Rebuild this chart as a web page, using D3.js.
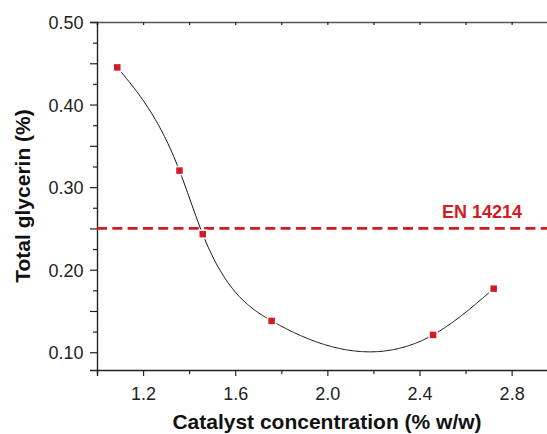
<!DOCTYPE html>
<meta charset="utf-8">
<style>
body { margin: 0; background: #fff; }
text { font-family: "Liberation Sans", Arial, sans-serif; }
</style>
<svg width="547" height="434"></svg>
<script src="https://d3js.org/d3.v7.min.js"></script>
<script>
// catalyst concentration (% w/w) vs total glycerin (%)
var catalyst = [1.088, 1.358, 1.459, 1.758, 2.459, 2.722];
var glycerin = [0.445, 0.320, 0.243, 0.138, 0.121, 0.177];
var limitValue = 0.25, limitLabel = "EN 14214";
var xTicks = [1.2, 1.6, 2.0, 2.4, 2.8];
var yTicks = [0.10, 0.20, 0.30, 0.40, 0.50];

var svg = d3.select("svg");
var red = "#d01c22";
var plotLeft = 97, plotRight = 557.7, plotTop = 22, plotBottom = 370;

var x = d3.scaleLinear().domain([1.0, 3.0]).range([plotLeft, plotRight]);
var y = d3.scaleLinear().domain([0.0785, 0.5]).range([plotBottom, plotTop]);

var axisColor = "#222";
function isMajor(list, d) {
  return list.some(function(t) { return Math.abs(t - d) < 1e-6; });
}

// bottom axis
var gx = svg.append("g").attr("transform", "translate(0," + plotBottom + ")");
gx.call(d3.axisBottom(x).tickValues(d3.range(1.0, 3.01, 0.2)).tickSize(6).tickFormat(""));
gx.selectAll(".tick").filter(function(d) { return !isMajor(xTicks, d); })
  .select("line").attr("y2", 4);
gx.selectAll(".tick").filter(function(d) { return isMajor(xTicks, d); })
  .append("text").attr("y", 30).attr("fill", "#222").attr("font-size", 18).attr("text-anchor", "middle")
  .text(function(d) { return d.toFixed(1); });

// left axis
var gy = svg.append("g").attr("transform", "translate(" + plotLeft + ",0)");
gy.call(d3.axisLeft(y).tickValues(d3.range(0.10, 0.501, 0.025)).tickSize(7).tickFormat(""));
gy.selectAll(".tick").select("line").attr("x2", function(d) {
  return Math.round(d * 1000) % 50 === 0 ? -7 : -4;
});
gy.selectAll(".tick").filter(function(d) { return isMajor(yTicks, d); })
  .append("text").attr("x", -13.5).attr("dy", "0.36em").attr("fill", "#222").attr("font-size", 18).attr("text-anchor", "end")
  .text(function(d) { return d.toFixed(2); });

// top axis (mirror, ticks inside)
var gt = svg.append("g").attr("transform", "translate(0," + plotTop + ")");
gt.call(d3.axisTop(x).tickValues(d3.range(1.0, 3.01, 0.2)).tickSize(-3).tickFormat(""));

svg.selectAll(".domain").attr("stroke", axisColor).attr("stroke-width", 1.4);
svg.selectAll(".tick line").attr("stroke", axisColor).attr("stroke-width", 1.2);
gt.select(".domain").attr("stroke", "#555").attr("stroke-width", 1.6);

// axis titles
svg.append("text").attr("x", 327).attr("y", 429).attr("text-anchor", "middle")
  .attr("font-size", 21).attr("font-weight", "bold").attr("fill", "#111")
  .text("Catalyst concentration (% w/w)");
svg.append("text").attr("transform", "translate(30,196) rotate(-90)").attr("text-anchor", "middle")
  .attr("font-size", 21).attr("font-weight", "bold").attr("fill", "#111")
  .text("Total glycerin (%)");

// limit line
svg.append("line").attr("x1", plotLeft).attr("x2", 547)
  .attr("y1", y(limitValue)).attr("y2", y(limitValue))
  .attr("stroke", red).attr("stroke-width", 2.6).attr("stroke-dasharray", "10,5.3");
svg.append("text").attr("x", 482).attr("y", 218).attr("text-anchor", "middle")
  .attr("font-size", 18).attr("font-weight", "bold").attr("fill", red).text(limitLabel);

// natural cubic spline y(x) through the points
function naturalSpline(xs, ys) {
  var n = xs.length, h = [], al = [], l = [1], mu = [0], z = [0], c = [], b = [], d = [];
  for (var i = 0; i < n - 1; i++) h[i] = xs[i + 1] - xs[i];
  for (i = 1; i < n - 1; i++)
    al[i] = 3 / h[i] * (ys[i + 1] - ys[i]) - 3 / h[i - 1] * (ys[i] - ys[i - 1]);
  for (i = 1; i < n - 1; i++) {
    l[i] = 2 * (xs[i + 1] - xs[i - 1]) - h[i - 1] * mu[i - 1];
    mu[i] = h[i] / l[i];
    z[i] = (al[i] - h[i - 1] * z[i - 1]) / l[i];
  }
  c[n - 1] = 0;
  for (var j = n - 2; j >= 0; j--) {
    c[j] = z[j] - mu[j] * c[j + 1];
    b[j] = (ys[j + 1] - ys[j]) / h[j] - h[j] * (c[j + 1] + 2 * c[j]) / 3;
    d[j] = (c[j + 1] - c[j]) / (3 * h[j]);
  }
  return function(t) {
    var k = Math.max(0, Math.min(n - 2, d3.bisectRight(xs, t) - 1));
    var dx = t - xs[k];
    return ys[k] + b[k] * dx + c[k] * dx * dx + d[k] * dx * dx * dx;
  };
}
var spline = naturalSpline(catalyst, glycerin);
var xs = d3.range(catalyst[0], catalyst[catalyst.length - 1], 0.005).concat([catalyst[catalyst.length - 1]]);
svg.append("path").datum(xs)
  .attr("fill", "none").attr("stroke", "#111").attr("stroke-width", 1)
  .attr("d", d3.line().x(function(t) { return x(t); }).y(function(t) { return y(spline(t)); }));

// markers
var pts = catalyst.map(function(c, i) { return [c, glycerin[i]]; });
svg.selectAll("rect.pt").data(pts).enter().append("rect").attr("class", "pt")
  .attr("x", function(d) { return x(d[0]) - 4; }).attr("y", function(d) { return y(d[1]) - 4; })
  .attr("width", 8).attr("height", 8)
  .attr("fill", red).attr("stroke", "#fff").attr("stroke-width", 1.5);
</script>
